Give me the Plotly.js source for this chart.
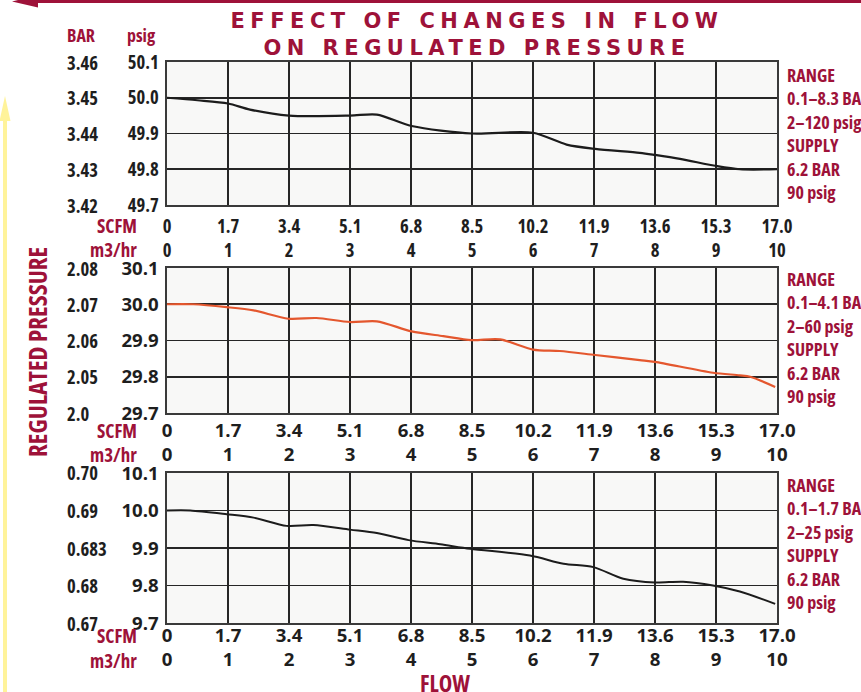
<!DOCTYPE html>
<html>
<head>
<meta charset="utf-8">
<script src="https://cdn.plot.ly/plotly-3.0.1.min.js"></script>
<style>
  html, body { margin: 0; padding: 0; background: #ffffff; }
  #chart { width: 861px; height: 692px; }
  .gtitle { letter-spacing: 5.5px; }
  #probe { position: absolute; left: -2000px; top: 0; white-space: nowrap; font-weight: 700; }
</style>
</head>
<body>
<div id="chart"></div>
<span id="probe"></span>
<script>
// ---- data (flow in m3/hr; regulated pressure in psig) ----
const flowM3 = [0, 1, 2, 3, 4, 5, 6, 7, 8, 9, 10];
const scfmLabels = ["0", "1.7", "3.4", "5.1", "6.8", "8.5", "10.2", "11.9", "13.6", "15.3", "17.0"];
const m3Labels = ["0", "1", "2", "3", "4", "5", "6", "7", "8", "9", "10"];

// Panel 1: range 0.1–8.3 BAR
const flow1 = [0, 0.5, 1.0, 1.36, 2.0, 3.0, 3.44, 4.01, 5.0, 6.0, 6.55, 7.02, 7.75, 8.0, 8.41, 9.01, 9.39, 10.0];
const psig1 = [50.0, 49.993, 49.984, 49.967, 49.950, 49.950, 49.953, 49.921, 49.900, 49.902, 49.869, 49.857, 49.846, 49.840, 49.829, 49.809, 49.800, 49.800];

// Panel 2: range 0.1–4.1 BAR
const flow2 = [0, 0.43, 0.98, 1.42, 1.99, 2.45, 3.0, 3.44, 4.01, 4.53, 4.99, 5.46, 6.0, 6.44, 7.02, 7.75, 8.0, 8.95, 9.39, 9.56, 9.97];
const psig2 = [30.0, 30.0, 29.992, 29.983, 29.960, 29.962, 29.951, 29.953, 29.925, 29.912, 29.901, 29.903, 29.875, 29.871, 29.860, 29.846, 29.841, 29.811, 29.804, 29.800, 29.772];

// Panel 3: range 0.1–1.7 BAR
const flow3 = [0, 0.38, 0.98, 1.42, 1.96, 2.40, 3.0, 3.44, 3.96, 4.48, 4.97, 5.95, 6.50, 6.99, 7.48, 8.0, 8.46, 8.95, 9.39, 9.97];
const psig3 = [10.0, 10.0, 9.990, 9.981, 9.959, 9.961, 9.949, 9.940, 9.921, 9.910, 9.898, 9.880, 9.858, 9.849, 9.818, 9.808, 9.810, 9.800, 9.784, 9.751];

// y tick values / labels
const psigTicks1 = [49.7, 49.8, 49.9, 50.0, 50.1];
const psigText1 = ["49.7", "49.8", "49.9", "50.0", "50.1"];
const barText1 = ["3.42", "3.43", "3.44", "3.45", "3.46"];
const psigTicks2 = [29.7, 29.8, 29.9, 30.0, 30.1];
const psigText2 = ["29.7", "29.8", "29.9", "30.0", "30.1"];
const barText2 = ["2.0", "2.05", "2.06", "2.07", "2.08"];
const psigTicks3 = [9.7, 9.8, 9.9, 10.0, 10.1];
const psigText3 = ["9.7", "9.8", "9.9", "10.0", "10.1"];
const barText3 = ["0.67", "0.68", "0.683", "0.69", "0.70"];

// right-side notes
const notes1 = ["RANGE", "0.1–8.3 BAR", "2–120 psig", "SUPPLY", "6.2 BAR", "90 psig"];
const notes2 = ["RANGE", "0.1–4.1 BAR", "2–60 psig", "SUPPLY", "6.2 BAR", "90 psig"];
const notes3 = ["RANGE", "0.1–1.7 BAR", "2–25 psig", "SUPPLY", "6.2 BAR", "90 psig"];

// ---- pick the installed bold sans whose proportions best match the condensed reference face ----
const probe = document.getElementById("probe");
function measure(family, stretch, size, text) {
  probe.style.fontFamily = family;
  probe.style.fontStretch = stretch;
  probe.style.fontSize = size + "px";
  probe.textContent = text;
  return probe.getBoundingClientRect().width;
}
const candidates = [
  ["'Liberation Sans Narrow'", "normal"],
  ["'DejaVu Sans Condensed'", "normal"],
  ["'Open Sans'", "75%"],
  ["'Noto Sans'", "75%"],
  ["'Noto Sans'", "70%"],
  ["'Noto Sans'", "62.5%"],
  ["'DejaVu Sans'", "condensed"],
  ["'Roboto'", "75%"],
  ["'Liberation Sans'", "normal"]
];
let best = candidates[candidates.length - 1], bestD = Infinity;
candidates.forEach(c => {
  const w = measure(c[0] + ", sans-serif", c[1], 21, "50.0");
  const d = Math.abs(w - 31);
  if (d < bestD - 0.3) { bestD = d; best = c; }
});
const COND = best[0] + ", 'Liberation Sans', sans-serif";
const STRETCH = best[1];
const styleEl = document.createElement("style");
styleEl.textContent = ".xtick text, .ytick text, .annotation-text { font-stretch: " + STRETCH + "; }";
document.head.appendChild(styleEl);
// font size that gives a reference width, capped so glyph heights stay close to the reference
function fit(text, target, maxSize) {
  const w = measure(COND, STRETCH, 20, text);
  return Math.min(maxSize, Math.max(12, 20 * target / w));
}
const sTick = fit("50.0", 31, 21.5);
const sNote = fit("RANGE", 48, 23);
const sRed = fit("SCFM", 40, 23);
const sHead = fit("BAR", 28, 23);
const sFlow = fit("FLOW", 50, 25);
const sVert = fit("REGULATED PRESSURE", 211, 25);

// ---- styling / layout helpers ----
const W = 861, H = 692;
const px = x => x / W;
const py = y => 1 - y / H;
const RED = "#9e1239";
const INK = "#1e1e1e";

const xTickText = scfmLabels.map((s, i) => s + "<br>" + m3Labels[i]);

function xAxis(anchor, standoff) {
  return {
    anchor: anchor, domain: [px(167), px(777)], range: [0, 10],
    tickmode: "array", tickvals: flowM3, ticktext: xTickText,
    ticks: standoff > 0 ? "outside" : "", ticklen: Math.max(standoff, 0), tickcolor: "rgba(0,0,0,0)",
    ticklabelstandoff: Math.min(standoff, 0),
    showgrid: true, gridcolor: "#262626", gridwidth: 1.6,
    showline: true, mirror: true, linecolor: "#3a3a3a", linewidth: 1.6,
    zeroline: false, fixedrange: true,
    tickfont: { family: COND, size: sTick, color: INK, weight: 700 }
  };
}
function yAxis(anchor, top, bottom, ticks, text) {
  return {
    anchor: anchor, domain: [py(bottom), py(top)], range: [ticks[0], ticks[ticks.length - 1]],
    tickmode: "array", tickvals: ticks, ticktext: text,
    ticks: "outside", ticklen: 3, tickcolor: "rgba(0,0,0,0)",
    showgrid: true, gridcolor: "#262626", gridwidth: 1.6,
    showline: true, mirror: true, linecolor: "#3a3a3a", linewidth: 1.6,
    zeroline: false, fixedrange: true,
    tickfont: { family: COND, size: sTick, color: INK, weight: 700 }
  };
}

const traces = [
  { x: flow1, y: psig1, xaxis: "x", yaxis: "y", type: "scatter", mode: "lines",
    line: { color: "#1c1c1c", width: 2.2, shape: "spline", smoothing: 0.8 }, hoverinfo: "x+y", showlegend: false },
  { x: flow2, y: psig2, xaxis: "x2", yaxis: "y2", type: "scatter", mode: "lines",
    line: { color: "#e4572e", width: 2.2, shape: "spline", smoothing: 0.8 }, hoverinfo: "x+y", showlegend: false },
  { x: flow3, y: psig3, xaxis: "x3", yaxis: "y3", type: "scatter", mode: "lines",
    line: { color: "#1c1c1c", width: 2.0, shape: "spline", smoothing: 0.8 }, hoverinfo: "x+y", showlegend: false }
];

const annotations = [];
function barLabels(yref, ticks, text) {
  ticks.forEach((v, i) => annotations.push({
    xref: "paper", yref: yref, x: px(66), y: v, xanchor: "left", yanchor: "middle",
    text: text[i], showarrow: false, borderpad: 0,
    font: { family: COND, size: sTick, color: INK, weight: 700 }
  }));
}
barLabels("y", psigTicks1, barText1);
barLabels("y2", psigTicks2, barText2);
barLabels("y3", psigTicks3, barText3);

function note(lines, yc) {
  annotations.push({
    xref: "paper", yref: "paper", x: px(786), y: py(yc), xanchor: "left", yanchor: "middle", align: "left",
    text: lines.join("<br>"), showarrow: false, borderpad: 0,
    font: { family: COND, size: sNote, color: RED, weight: 700 }
  });
}
note(notes1, 133);
note(notes2, 337.5);
note(notes3, 543);

function redLabel(text, x, y, xanchor, size) {
  annotations.push({
    xref: "paper", yref: "paper", x: px(x), y: py(y), xanchor: xanchor, yanchor: "middle",
    text: text, showarrow: false, borderpad: 0,
    font: { family: COND, size: size, color: RED, weight: 700 }
  });
}
redLabel("BAR", 66, 35, "left", sHead);
redLabel("psig", 126, 35, "left", sHead);
[[226, 250], [431, 455], [636, 661]].forEach(([a, b]) => {
  redLabel("SCFM", 138, a, "right", sRed);
  redLabel("m3/hr", 138, b, "right", sRed);
});
redLabel("FLOW", 445, 683, "center", sFlow);
annotations.push({
  xref: "paper", yref: "paper", x: px(37), y: py(352), xanchor: "center", yanchor: "middle",
  text: "REGULATED PRESSURE", textangle: -90, showarrow: false, borderpad: 0,
  font: { family: COND, size: sVert, color: RED, weight: 700 }
});

const shapes = [
  // top red rule with arrowhead pointing left
  { type: "line", xref: "paper", yref: "paper", x0: px(30), x1: 1, y0: py(1.5), y1: py(1.5),
    line: { color: RED, width: 3 } },
  { type: "path", xref: "paper", yref: "paper",
    path: `M ${px(12)},${py(1.5)} L ${px(38)},${py(-5)} L ${px(38)},${py(7.5)} Z`,
    fillcolor: RED, line: { width: 0 } },
  // yellow upward arrow on the left
  { type: "line", xref: "paper", yref: "paper", x0: px(5), x1: px(5), y0: py(118), y1: 0,
    line: { color: "#fff39a", width: 4 } },
  { type: "path", xref: "paper", yref: "paper",
    path: `M ${px(5)},${py(96)} L ${px(10.5)},${py(121)} L ${px(-0.5)},${py(121)} Z`,
    fillcolor: "#fff39a", line: { width: 0 } }
];

const layout = {
  width: W, height: H,
  margin: { l: 0, r: 0, t: 0, b: 0, pad: 0 },
  paper_bgcolor: "#ffffff", plot_bgcolor: "#f8f8f7",
  showlegend: false,
  title: {
    text: "EFFECT OF CHANGES IN FLOW<br>ON REGULATED PRESSURE",
    x: px(477), xanchor: "center", xref: "paper",
    y: py(27.5), yanchor: "middle", yref: "container",
    font: { family: "'DejaVu Sans', sans-serif", size: 21, color: RED, weight: 700 }
  },
  xaxis: xAxis("y", 4), yaxis: yAxis("x", 62, 205, psigTicks1, psigText1),
  xaxis2: xAxis("y2", 0), yaxis2: yAxis("x2", 268, 413, psigTicks2, psigText2),
  xaxis3: xAxis("y3", -5), yaxis3: yAxis("x3", 473, 623, psigTicks3, psigText3),
  annotations: annotations,
  shapes: shapes
};

Plotly.newPlot("chart", traces, layout, { displayModeBar: false, staticPlot: true });
</script>
</body>
</html>
